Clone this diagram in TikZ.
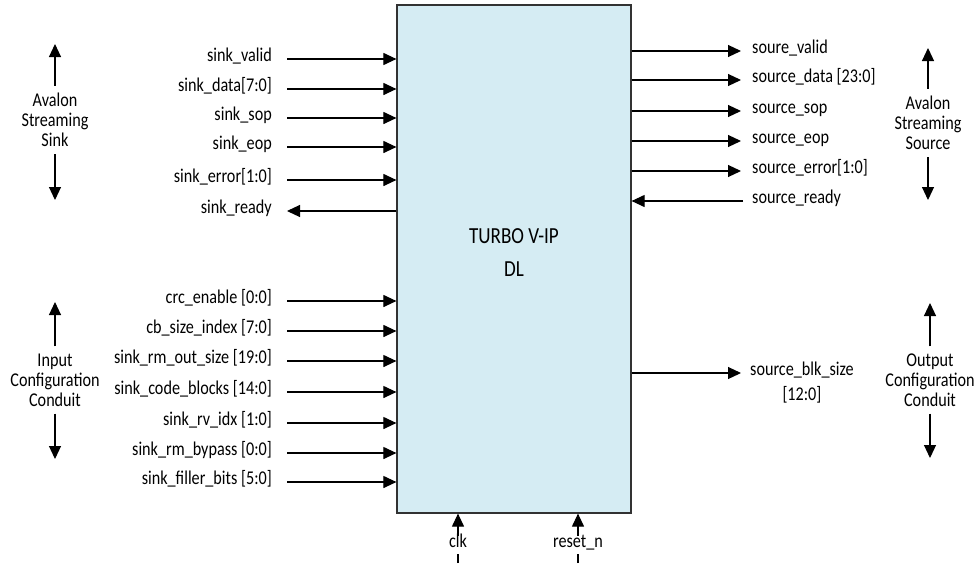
\documentclass[tikz,border=0pt]{standalone}
\usepackage{fontspec}
\setmainfont[FakeStretch=0.83]{Carlito}
\usetikzlibrary{arrows.meta}
\definecolor{boxfill}{RGB}{213,236,243}
\definecolor{boxline}{RGB}{50,50,50}
\begin{document}
\begin{tikzpicture}[x=1pt,y=-1pt,
  sig/.style={line width=1.1pt, -{Triangle[length=13pt,width=12pt]}},
  lab/.style={inner sep=0pt, font=\fontsize{19.5}{20}\selectfont, text height=0.72em, text depth=0.22em},
  grp/.style={align=center, inner xsep=0pt, inner ysep=7pt, font=\fontsize{19.5}{20}\selectfont},
  ipbox/.style={draw=boxline, fill=boxfill, line width=1.2pt, minimum width=234pt, minimum height=508pt, inner sep=0pt}]
\useasboundingbox (0,0) rectangle (976,563);
\fill[white] (0,0) rectangle (976,563);
% main block
\node[ipbox] (ip) at (514,259) {};
\node[align=center, font=\fontsize{23}{33}\selectfont] (title) at (514,253) {TURBO V-IP\\DL};
% left inputs
\foreach \n/\t/\y in {l1/sink\_valid/59, l2/sink\_data[7:0]/89, l3/sink\_sop/118, l4/sink\_eop/147, l5/sink\_error[1:0]/180,
  c1/crc\_enable [0:0]/301, c2/cb\_size\_index [7:0]/331, c3/sink\_rm\_out\_size [19:0]/361, c4/sink\_code\_blocks [14:0]/392,
  c5/sink\_rv\_idx [1:0]/423, c6/sink\_rm\_bypass [0:0]/453, c7/sink\_filler\_bits [5:0]/482}{
  \node[lab, anchor=east] (\n) at (272,\y) {\t};
  \draw[sig] ([xshift=15pt]\n.east) -- (\n -| ip.west);
}
\node[lab, anchor=east] (l6) at (272,211) {sink\_ready};
\draw[sig] (l6 -| ip.west) -- ([xshift=15pt]l6.east);
% right outputs
\foreach \n/\t/\y in {r1/soure\_valid/51, r2/source\_data [23:0]/80, r3/source\_sop/111, r4/source\_eop/141, r5/source\_error[1:0]/171}{
  \node[lab, anchor=west] (\n) at (752,\y) {\t};
  \draw[sig] (\n -| ip.east) -- ([xshift=-11pt]\n.west);
}
\node[lab, anchor=west] (r6) at (752,201) {source\_ready};
\draw[sig] ([xshift=-9pt]r6.west) -- (r6 -| ip.east);
\node[lab, anchor=west] (blk) at (750,373) {source\_blk\_size};
\node[lab] (blkw) at (blk.center |- 0,398) {[12:0]};
\draw[sig] (blk -| ip.east) -- ([xshift=-9pt]blk.west);
% bottom inputs
\coordinate (clkb) at (458,563);
\coordinate (rstb) at (578,563);
\draw[sig] (clkb) -- (clkb |- ip.south);
\draw[sig] (rstb) -- (rstb |- ip.south);
\node[lab, fill=white, inner xsep=2pt, inner ysep=4pt] (clk) at (458,545) {clk};
\node[lab, fill=white, inner xsep=2pt, inner ysep=4pt] (rst) at (578,545) {reset\_n};
% group labels
\node[grp] (gss) at (55,120) {Avalon\\Streaming\\Sink};
\coordinate (gssT) at (55,44); \coordinate (gssB) at (55,200);
\draw[sig] (gss.north) -- (gssT); \draw[sig] (gss.south) -- (gssB);
\node[grp] (gic) at (55,380) {Input\\Configuration\\Conduit};
\coordinate (gicT) at (55,302); \coordinate (gicB) at (55,459);
\draw[sig] (gic.north) -- (gicT); \draw[sig] (gic.south) -- (gicB);
\node[grp] (gsr) at (928,123) {Avalon\\Streaming\\Source};
\coordinate (gsrT) at (928,48); \coordinate (gsrB) at (928,200);
\draw[sig] (gsr.north) -- (gsrT); \draw[sig] (gsr.south) -- (gsrB);
\node[grp] (goc) at (930,380) {Output\\Configuration\\Conduit};
\coordinate (gocT) at (930,303); \coordinate (gocB) at (930,458);
\draw[sig] (goc.north) -- (gocT); \draw[sig] (goc.south) -- (gocB);
\end{tikzpicture}
\end{document}
